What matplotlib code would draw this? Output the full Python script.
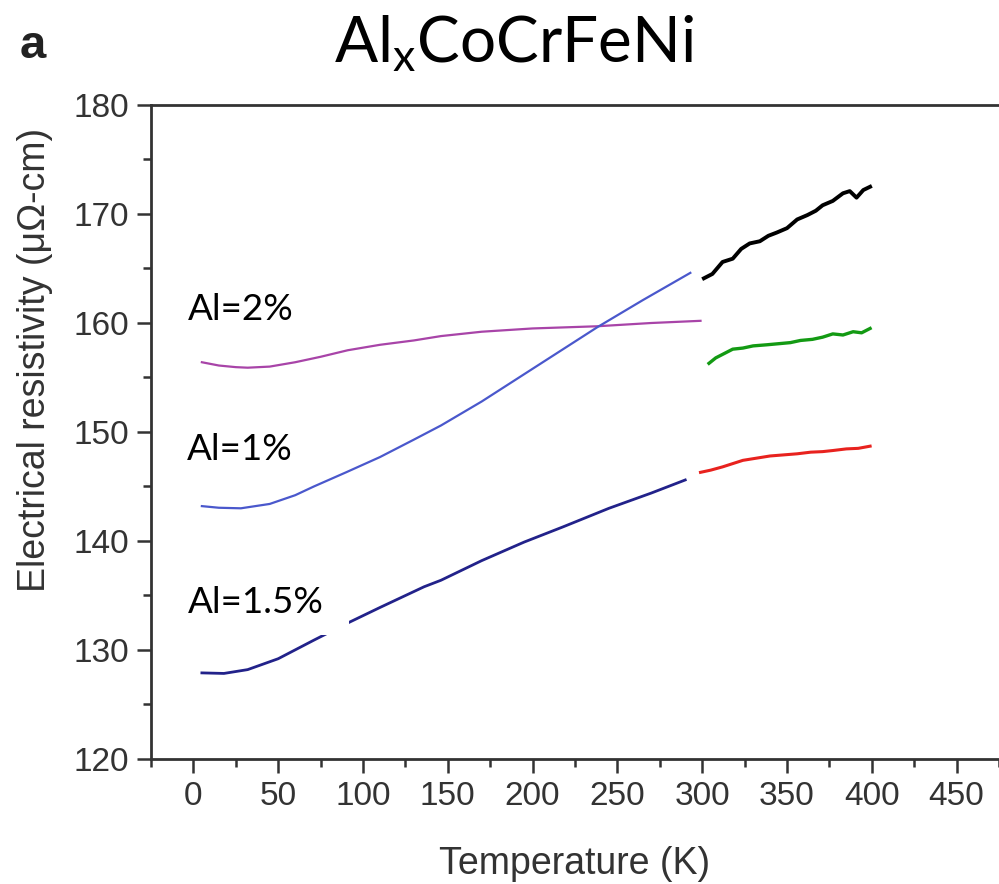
import matplotlib
matplotlib.use("Agg")
import matplotlib.pyplot as plt
from matplotlib.ticker import MultipleLocator
from matplotlib.patches import Rectangle

plt.rcParams['font.family'] = ['Liberation Sans', 'DejaVu Sans']
plt.rcParams['mathtext.fontset'] = 'custom'
plt.rcParams['mathtext.rm'] = 'Lato'
plt.rcParams['mathtext.it'] = 'Lato'

# ---- data ----
T_al2 = [5, 15, 25, 32, 45, 60, 75, 91, 110, 130, 146, 170, 200, 238, 270, 299]
R_al2 = [156.4, 156.1, 155.95, 155.9, 156.0, 156.4, 156.9, 157.5, 158.0, 158.4,
         158.8, 159.2, 159.5, 159.7, 160.0, 160.2]

T_al1 = [5, 15, 28, 45, 60, 71, 90, 110, 130, 146, 170, 200, 238, 265, 293]
R_al1 = [143.2, 143.05, 143.0, 143.4, 144.2, 145.0, 146.3, 147.7, 149.3, 150.6,
         152.8, 155.8, 159.6, 162.1, 164.6]

T_al15 = [5, 18, 32, 50, 71, 90, 110, 136, 146, 170, 195, 218, 245, 270, 290]
R_al15 = [127.9, 127.85, 128.2, 129.2, 130.9, 132.4, 133.9, 135.8, 136.4, 138.2,
          139.9, 141.3, 143.0, 144.4, 145.6]

T_black = [301, 306, 312, 318, 323, 328, 334, 339, 344, 350, 356, 362, 367, 371,
           377, 383, 387, 391, 395, 399]
R_black = [164.1, 164.5, 165.6, 165.9, 166.8, 167.3, 167.5, 168.0, 168.3, 168.7,
           169.5, 169.9, 170.3, 170.8, 171.2, 171.9, 172.1, 171.5, 172.2, 172.5]

T_green = [304, 308, 313, 318, 324, 330, 338, 345, 352, 358, 365, 371, 377, 383,
           389, 394, 399]
R_green = [156.3, 156.8, 157.2, 157.6, 157.7, 157.9, 158.0, 158.1, 158.2, 158.4,
           158.5, 158.7, 159.0, 158.9, 159.2, 159.1, 159.5]

T_red = [299, 305, 312, 318, 324, 332, 340, 348, 356, 364, 371, 377, 385, 392, 399]
R_red = [146.3, 146.5, 146.8, 147.1, 147.4, 147.6, 147.8, 147.9, 148.0, 148.15,
         148.2, 148.3, 148.45, 148.5, 148.7]

labels = ["Al=2%", "Al=1%", "Al=1.5%"]
x_ticks = [0, 50, 100, 150, 200, 250, 300, 350, 400, 450]
y_ticks = [120, 130, 140, 150, 160, 170, 180]

# ---- figure ----
fig = plt.figure(figsize=(9.99, 8.84), dpi=100)
ax = fig.add_axes([151 / 999, 1 - 759 / 884, 1 - 151 / 999, (759 - 105) / 884])

ax.plot(T_al2, R_al2, color='#a844a8', lw=1.6)
ax.plot(T_al1, R_al1, color='#4a58cc', lw=1.6)
ax.plot(T_al15, R_al15, color='#22228a', lw=2.0)
ax.plot(T_black, R_black, color='black', lw=2.8)
ax.plot(T_green, R_green, color='#139a13', lw=2.4)
ax.plot(T_red, R_red, color='#e8221e', lw=2.2)

ax.set_xlim(-25, 475)
ax.set_ylim(120, 180)
ax.xaxis.set_major_locator(MultipleLocator(50))
ax.xaxis.set_minor_locator(MultipleLocator(25))
ax.yaxis.set_major_locator(MultipleLocator(10))
ax.yaxis.set_minor_locator(MultipleLocator(5))
ax.set_xticks(x_ticks)
ax.set_yticks(y_ticks)

grey = '#333333'
for s in ax.spines.values():
    s.set_linewidth(2.0)
    s.set_color('#333333')
ax.spines['right'].set_visible(False)

ax.tick_params(which='major', direction='out', length=10, width=1.8,
               color='#333333', labelsize=24, labelcolor=grey, pad=6)
ax.tick_params(which='minor', direction='out', length=6, width=1.8, color='#333333')

ax.set_xlabel('Temperature (K)', fontsize=27, color=grey, labelpad=24)
fig.text(35 / 999, 1 - 360 / 884, 'Electrical resistivity (μΩ-cm)', rotation=90,
         fontsize=27, color=grey, ha='center', va='center')

lab_font = dict(family=['Lato', 'DejaVu Sans'], fontsize=26.5, color='black')
ax.text(-3, 160.3, labels[0], ha='left', va='baseline', **lab_font)
ax.text(-4, 147.4, labels[1], ha='left', va='baseline', **lab_font)
# white label background of the 1.5% label, partly covering the curve
ax.add_patch(Rectangle((-8, 131.4), 100, 6.0, facecolor='white', edgecolor='none',
                       zorder=3))
ax.text(-3, 133.4, labels[2], ha='left', va='baseline', zorder=4, **lab_font)

fig.text(0.515, 1 - 62 / 884, r'Al$_{\mathrm{x}}$CoCrFeNi', ha='center', va='baseline',
         fontsize=46, family=['Lato', 'DejaVu Sans'], color='black')
fig.text(20 / 999, 1 - 58 / 884, 'a', ha='left', va='baseline', fontsize=34,
         fontweight='bold', color='#222222')

fig.savefig('out.png', dpi=100)
